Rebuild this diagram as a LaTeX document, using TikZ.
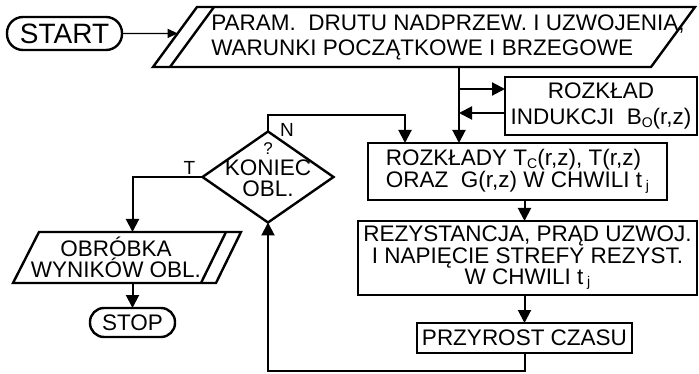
\documentclass[tikz,border=0pt]{standalone}
\usepackage{fontspec}
\setmainfont{Liberation Sans}
\usetikzlibrary{positioning, arrows.meta, shapes.geometric, calc}

% small lowered index, as in T_C or t_j
\newcommand{\lowsub}[1]{\raisebox{-2.5pt}{\fontsize{14}{14}\selectfont #1}}

\begin{document}
\begin{tikzpicture}[
    x=1pt, y=-1pt,
    base/.style={draw, line width=2.4pt, inner sep=0pt, outer sep=0pt, align=center, font=\fontsize{22.5}{20}\selectfont},
    term/.style={base, rectangle},
    proc/.style={base, rectangle},
    iotext/.style={rectangle, inner sep=0pt, outer sep=0pt, font=\fontsize{22.5}{20}\selectfont},
    decision/.style={base, diamond, inner sep=2pt},
    txt/.style={inner sep=0pt, align=center, font=\fontsize{22.5}{20}\selectfont},
    flag/.style={inner sep=0pt, font=\fontsize{19}{19}\selectfont},
    line/.style={line width=2.4pt, line join=miter},
    arrow/.style={line width=2pt, -{Triangle[length=13pt, width=13pt]}},
    thinarrow/.style={line width=1.2pt, -{Triangle[length=10pt, width=9pt]}},
]
\path[fill=white] (0,0) rectangle (699,374);
\useasboundingbox (0,0) rectangle (699,374);

% Terminals
\node[term, minimum width=115pt, minimum height=33pt, rounded corners=16pt, font=\fontsize{28}{28}\selectfont] (start) at (64.5,33.5) {START};
\node[term, minimum width=85pt, minimum height=29pt, rounded corners=14pt] (stop) at (132.5,322.5) {STOP};

% Input data (parallelogram, double edge on the left)
\node[iotext, align=left, minimum height=60pt, font=\fontsize{22.5}{25}\selectfont] (in) at (448,37) {PARAM.\ \ DRUTU NADPRZEW. I UZWOJENIA,\\WARUNKI POCZĄTKOWE I BRZEGOWE};
\coordinate (in-bl) at ([shift={(-295,30)}]in.center);
\coordinate (in-tl) at ([shift={(-251,-30)}]in.center);
\coordinate (in-tr) at ([shift={(247,-30)}]in.center);
\coordinate (in-br) at ([shift={(203,30)}]in.center);
\draw[line] (in-bl) -- (in-tl) -- (in-tr) -- (in-br) -- cycle;
\draw[line] ([xshift=17pt]in-bl) -- ([xshift=17pt]in-tl);

% Computation blocks
\node[proc, minimum width=192pt, minimum height=58pt, font=\fontsize{22.5}{26}\selectfont] (ind) at (601,106) {ROZKŁAD\\INDUKCJI\ \ B\lowsub{O}(r,z)};
\node[proc, minimum width=299pt, minimum height=57pt, align=left, font=\fontsize{22.5}{22}\selectfont] (roz) at (517.5,171.5) {ROZKŁADY T\lowsub{C}(r,z), T(r,z)\\ORAZ\ \ G(r,z) W CHWILI t\,\lowsub{j}};
\node[proc, minimum width=339pt, minimum height=74pt] (rez) at (527.5,258) {REZYSTANCJA, PRĄD UZWOJ.\\I NAPIĘCIE STREFY REZYST.\\W CHWILI t\,\lowsub{j}};
\node[proc, minimum width=215pt, minimum height=30pt] (dt) at (524.5,338) {PRZYROST CZASU};

% Decision
\node[decision, minimum width=131pt, minimum height=91pt] (end) at (268,177) {};
\node[txt, font=\fontsize{22.5}{21}\selectfont] (endtxt) at (268,170) {{\fontsize{17}{21}\selectfont ?}\\KONIEC\\OBL.};
\node[flag, anchor=west] (nlab) at ([xshift=12pt, yshift=2pt]end.north) {N};
\node[flag, anchor=south east] (tlab) at ([xshift=-7pt, yshift=2pt]end.west) {T};

% Output (parallelogram, double edge on the right)
\node[iotext, align=center, minimum height=51pt, font=\fontsize{22.5}{21}\selectfont] (out) at (116,257.5) {OBRÓBKA\\WYNIKÓW OBL.};
\coordinate (out-bl) at ([shift={(-103,25.5)}]out.center);
\coordinate (out-tl) at ([shift={(-77,-25.5)}]out.center);
\coordinate (out-tr) at ([shift={(125,-25.5)}]out.center);
\coordinate (out-br) at ([shift={(100,25.5)}]out.center);
\draw[line] (out-bl) -- (out-tl) -- (out-tr) -- (out-br) -- cycle;
\draw[line] ([xshift=-15pt]out-br) -- ([xshift=-15pt]out-tr);

% Connectors
\coordinate (inport) at ($(in-bl)!0.56!(in-tl)$);
\coordinate (bus) at ([xshift=11pt]in.south);
\draw[thinarrow] (start) -- (inport);
\draw[arrow] (bus) -- (bus |- roz.north);
\draw[arrow] ([yshift=17pt]ind.west -| bus) -- ([yshift=17pt]ind.west);
\draw[arrow] ([yshift=-7pt]ind.west) -- ([yshift=-7pt]ind.west -| bus);
\draw[arrow] (roz.south -| dt.north) -- (rez.north -| dt.north);
\draw[arrow] (rez.south -| dt.north) -- (dt.north);
\draw[arrow] (dt.south) -- ++(0,18) -| (end.south);
\draw[arrow] (end.north) -- ++(0,-16) -| ([xshift=37pt]roz.north west);
\draw[arrow] (end.west) -| (out.north -| stop.north);
\draw[arrow] (out.south -| stop.north) -- (stop.north);

\end{tikzpicture}
\end{document}
